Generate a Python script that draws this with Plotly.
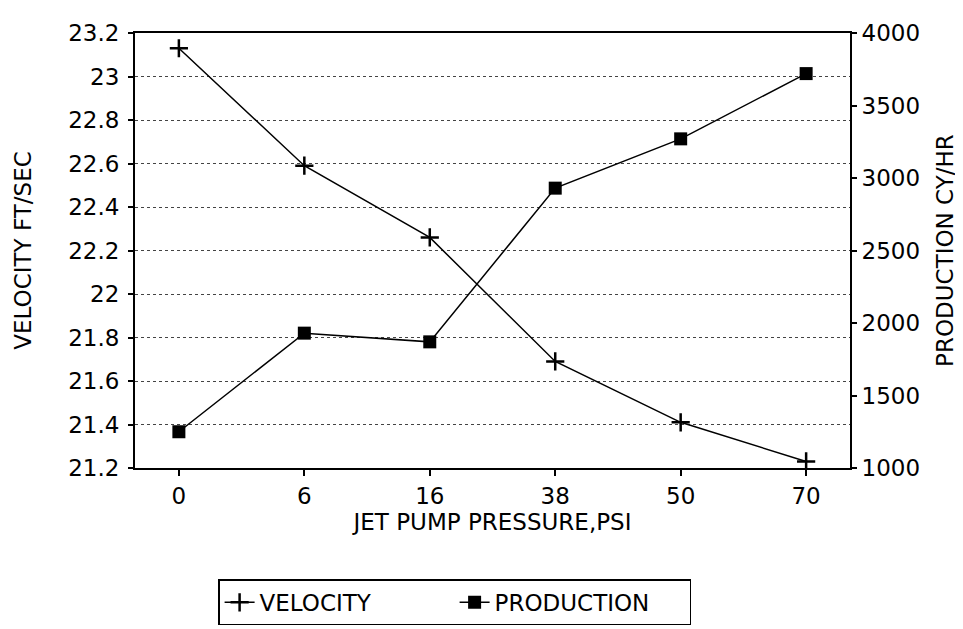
import plotly.graph_objects as go

pressure = ["0", "6", "16", "38", "50", "70"]
velocity = [23.13, 22.59, 22.26, 21.69, 21.41, 21.23]
production = [1250, 1930, 1870, 2930, 3270, 3720]

left_ticks = [21.2, 21.4, 21.6, 21.8, 22.0, 22.2, 22.4, 22.6, 22.8, 23.0, 23.2]
left_labels = ["21.2", "21.4", "21.6", "21.8", "22", "22.2", "22.4", "22.6", "22.8", "23", "23.2"]
right_ticks = [1000, 1500, 2000, 2500, 3000, 3500, 4000]

FONT = "DejaVu Sans"

fig = go.Figure()
fig.add_trace(go.Scatter(
    x=pressure, y=velocity, name="VELOCITY", mode="lines+markers",
    line=dict(color="black", width=1.5),
    marker=dict(symbol="cross-thin", size=13, line=dict(color="black", width=2.5)),
    yaxis="y",
))
fig.add_trace(go.Scatter(
    x=pressure, y=production, name="PRODUCTION", mode="lines+markers",
    line=dict(color="black", width=1.5),
    marker=dict(symbol="square", size=13, color="black"),
    yaxis="y2",
))

fig.update_layout(
    width=963, height=629,
    margin=dict(l=127, r=121, t=18, b=166),
    paper_bgcolor="white", plot_bgcolor="white",
    font=dict(family=FONT, size=22, color="black"),
    showlegend=True,
    legend=dict(
        orientation="h", x=0.447, xanchor="center", y=-0.256, yanchor="top",
        bordercolor="black", borderwidth=1.5, bgcolor="white",
        font=dict(family=FONT, size=23, color="black"),
        itemwidth=30, entrywidth=190, entrywidthmode="pixels",
    ),
    xaxis=dict(
        type="category", showline=True, mirror=True, linecolor="black", linewidth=2,
        ticks="outside", ticklen=6, tickcolor="black", tickwidth=1.5,
        showgrid=False, zeroline=False,
        tickfont=dict(family=FONT, size=23),
        title=dict(text="JET PUMP PRESSURE,PSI", font=dict(family=FONT, size=23), standoff=6),
    ),
    yaxis=dict(
        range=[21.2, 23.2], tickvals=left_ticks, ticktext=left_labels,
        showline=True, linecolor="black", linewidth=2,
        ticks="outside", ticklen=5, tickcolor="black", tickwidth=1.5,
        ticklabelstandoff=4,
        showgrid=True, gridcolor="#444", griddash="dot", gridwidth=1,
        zeroline=False,
        tickfont=dict(family=FONT, size=23),
        title=dict(text="VELOCITY FT/SEC", font=dict(family=FONT, size=23), standoff=30),
    ),
    yaxis2=dict(
        range=[1000, 4000], tickvals=right_ticks, overlaying="y", side="right",
        showline=True, linecolor="black", linewidth=2,
        ticks="outside", ticklen=5, tickcolor="black", tickwidth=1.5,
        showgrid=False, zeroline=False,
        tickfont=dict(family=FONT, size=23),
        title=dict(text="PRODUCTION CY/HR", font=dict(family=FONT, size=23), standoff=18),
    ),
)

fig.write_html("out.html")
